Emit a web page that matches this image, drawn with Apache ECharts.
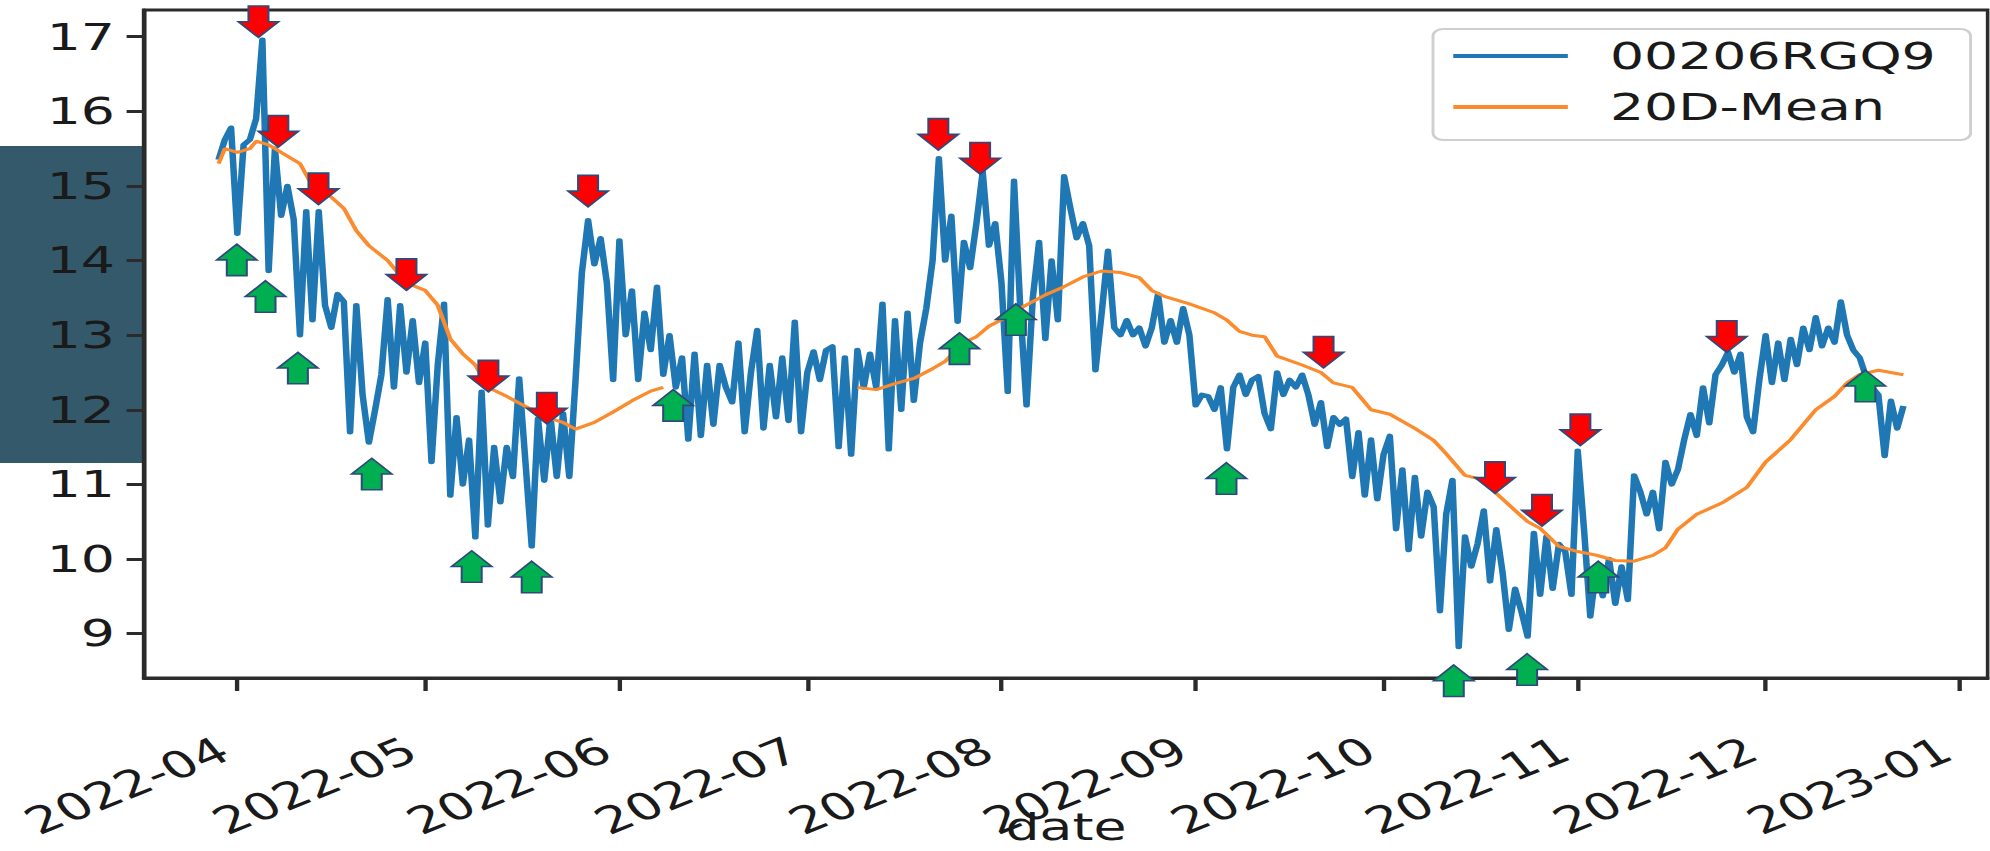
<!DOCTYPE html>
<html>
<head>
<meta charset="utf-8">
<script src="https://cdn.jsdelivr.net/npm/echarts@6/dist/echarts.min.js"></script>
<style>
html,body{margin:0;padding:0;background:#ffffff;overflow:hidden;}
#wrap{width:1990px;height:851px;overflow:hidden;position:relative;background:#fff;}
#chart{height:851px;transform-origin:0 0;}
</style>
</head>
<body>
<div id="wrap"><div id="chart"></div></div>
<script>
// ---------------- data ----------------
const seriesName = '00206RGQ9';
const meanName = '20D-Mean';
const blueStart = '2022-03-29';          // first daily value
const blueValues = [
  15.35, 15.62, 15.78,
  14.36, 15.55, 15.62, 15.9, 16.96, 13.86, 15.5, 14.6, 15.0, 14.55,
  13.0, 14.66, 13.2, 14.66, 13.4, 13.1, 13.55, 13.45, 11.7, 13.4,
  12.2, 11.56, 12.0, 12.47, 13.48, 12.3, 13.4, 12.5, 13.2, 12.36,
  12.9, 11.3, 12.6, 13.42, 10.85, 11.9, 11.0, 11.6, 10.29, 12.24,
  10.45, 11.5, 10.76, 11.5, 11.1, 12.42, 11.3, 10.17, 11.88, 11.05,
  11.9, 11.1, 11.95, 11.1, 12.4, 13.83, 14.54, 13.95, 14.3, 13.7,
  12.4, 14.27, 13.0, 13.6, 12.4, 13.3, 12.8, 13.65, 12.47, 13.0,
  12.3, 12.7, 11.6, 12.75, 11.65, 12.6, 11.8, 12.6, 12.3, 12.1,
  12.9, 11.7, 12.5, 13.07, 11.75, 12.6, 11.9, 12.7, 11.85, 13.18,
  11.7, 12.5, 12.78, 12.4, 12.8, 12.85, 11.5, 12.7, 11.4, 12.8,
  12.3, 12.75, 12.3, 13.42, 11.47, 13.2, 12.0, 13.3, 12.12, 12.9,
  13.36, 14.0, 15.37, 14.0, 14.6, 13.18, 14.25, 13.9, 14.5, 15.19,
  14.2, 14.5, 13.7, 12.24, 15.07, 13.36, 12.06, 13.5, 14.25, 12.95,
  14.0, 13.2, 15.13, 14.7, 14.3, 14.5, 14.2, 12.53, 13.3, 14.13,
  13.1, 13.0, 13.2, 13.0, 13.1, 12.85, 13.1, 13.55, 12.9, 13.2,
  12.9, 13.36, 13.0, 12.06, 12.2, 12.18, 12.0, 12.3, 11.47, 12.3,
  12.47, 12.2, 12.4, 12.45, 11.95, 11.74, 12.5, 12.2, 12.4, 12.3,
  12.47, 12.2, 11.8, 12.1, 11.5, 11.9, 11.8, 11.88, 11.1, 11.7,
  10.85, 11.6, 10.8, 11.4, 11.65, 10.4, 11.2, 10.12, 11.1, 10.3,
  10.9, 10.7, 9.3, 10.6, 11.06, 8.82, 10.3, 9.9, 10.2, 10.65,
  9.7, 10.4, 9.82, 9.05, 9.6, 9.3, 8.96, 10.35, 9.52, 10.3,
  9.6, 10.2, 10.1, 9.52, 11.45, 10.4, 9.23, 9.9, 9.5, 10.0,
  9.4, 9.9, 9.45, 11.12, 10.9, 10.6, 10.9, 10.4, 11.3, 11.0,
  11.2, 11.6, 11.94, 11.65, 12.3, 11.82, 12.47, 12.6, 12.77, 12.5,
  12.75, 11.9, 11.7, 12.4, 13.0, 12.36, 12.9, 12.4, 12.95, 12.6,
  13.1, 12.8, 13.24, 12.85, 13.1, 12.9, 13.45, 13.0, 12.8, 12.7,
  12.45, 12.3, 12.2, 11.38, 12.12, 11.75, 12.05
];

const maDates = [
  '2022-03-29','2022-03-30','2022-04-01','2022-04-03','2022-04-04','2022-04-06','2022-04-09','2022-04-11',
  '2022-04-13','2022-04-16','2022-04-18','2022-04-20','2022-04-22','2022-04-25','2022-04-28','2022-05-01',
  '2022-05-03','2022-05-05','2022-05-07','2022-05-09','2022-05-11','2022-05-14','2022-05-18','2022-05-21',
  '2022-05-23','2022-05-25','2022-05-28','2022-05-31','2022-06-03','2022-06-06','2022-06-08','2022-06-20',
  '2022-07-09','2022-07-12','2022-07-15','2022-07-18','2022-07-21','2022-07-23','2022-07-26','2022-07-28',
  '2022-07-30','2022-08-02','2022-08-04','2022-08-08','2022-08-11','2022-08-14','2022-08-17','2022-08-20',
  '2022-08-23','2022-08-25','2022-08-27','2022-08-31','2022-09-04','2022-09-06','2022-09-08','2022-09-10',
  '2022-09-12','2022-09-14','2022-09-18','2022-09-21','2022-09-23','2022-09-26','2022-09-29','2022-10-02',
  '2022-10-06','2022-10-09','2022-10-11','2022-10-14','2022-10-17','2022-10-19','2022-10-22','2022-10-24',
  '2022-10-26','2022-10-29','2022-11-01','2022-11-04','2022-11-07','2022-11-10','2022-11-13','2022-11-15',
  '2022-11-17','2022-11-20','2022-11-24','2022-11-28','2022-12-01','2022-12-05','2022-12-09','2022-12-12',
  '2022-12-14','2022-12-16','2022-12-19','2022-12-23'
];
const maValues = [
  15.3, 15.5, 15.45, 15.5, 15.6, 15.55, 15.4, 15.3,
  15.0, 14.85, 14.7, 14.4, 14.2, 14.0, 13.7, 13.6,
  13.4, 12.95, 12.75, 12.6, 12.3, 12.18, 12.0, 11.88,
  11.83, 11.74, 11.83, 11.97, 12.12, 12.25, 12.3, null,
  12.3, 12.27, 12.35, 12.42, 12.55, 12.65, 12.9, 12.98,
  13.12, 13.25, 13.36, 13.54, 13.65, 13.78, 13.86, 13.84,
  13.77, 13.6, 13.52, 13.42, 13.3, 13.2, 13.05, 13.0,
  12.98, 12.72, 12.6, 12.5, 12.36, 12.3, 12.0, 11.94,
  11.75, 11.59, 11.41, 11.12, 11.06, 10.88, 10.65, 10.5,
  10.41, 10.17, 10.1, 10.05, 9.98, 9.97, 10.05, 10.15,
  10.4, 10.6, 10.75, 10.96, 11.3, 11.6, 12.0, 12.18,
  12.36, 12.47, 12.53, 12.47
];

// red "down" arrows (tip position)
const sellDates = ['2022-04-04T09:00','2022-04-07T13:00','2022-04-13T23:00','2022-04-28T00:00','2022-05-11T02:00',
  '2022-05-20T10:00','2022-05-27T00:00','2022-07-21T22:00','2022-07-28T14:00','2022-09-21T10:00',
  '2022-10-18T19:00','2022-10-26T07:00','2022-11-01T10:00','2022-11-24T19:00'];
const sellValues = [16.99, 15.52, 14.75, 13.60, 12.24, 11.81, 14.72, 15.48, 15.16, 12.56, 10.88, 10.44, 11.52, 12.77];

// green "up" arrows (tip position)
const buyDates = ['2022-03-31T22:00','2022-04-05T12:00','2022-04-10T16:00','2022-04-22T11:00','2022-05-08T10:00',
  '2022-05-18T00:00','2022-06-09T14:00','2022-07-25T07:00','2022-08-03T07:00','2022-09-05T22:00',
  '2022-10-12T05:00','2022-10-23T22:00','2022-11-04T07:00','2022-12-16T22:00'];
const buyValues = [14.22, 13.73, 12.77, 11.35, 10.11, 9.97, 12.27, 13.03, 13.42, 11.29, 8.58, 8.73, 9.97, 12.53];

const yTickValues = [9, 10, 11, 12, 13, 14, 15, 16, 17];
const xTickLabels = ['2022-04','2022-05','2022-06','2022-07','2022-08','2022-09','2022-10','2022-11','2022-12','2023-01'];
const xRange = ['2022-03-17T02:24', '2023-01-05T12:00'];
const yRange = [8.405, 17.358];

// ---------------- helpers ----------------
function parseLocal(s) {
  const parts = s.split('T');
  const dp = parts[0].split('-').map(Number);
  let hh = 0, mi = 0;
  if (parts[1]) { const tp = parts[1].split(':').map(Number); hh = tp[0]; mi = tp[1]; }
  return new Date(dp[0], dp[1] - 1, dp[2] || 1, hh, mi).getTime();
}
const bs = blueStart.split('-').map(Number);
const blueData = blueValues.map((v, i) => [new Date(bs[0], bs[1] - 1, bs[2] + i).getTime(), v]);
const maData = maDates.map((d, i) => [parseLocal(d), maValues[i] === null ? '-' : maValues[i]]);
const sellData = sellDates.map((d, i) => [parseLocal(d), sellValues[i]]);
const buyData = buyDates.map((d, i) => [parseLocal(d), buyValues[i]]);
const xTickValues = xTickLabels.map(s => parseLocal(s));

// ---------------- layout (source picture is horizontally stretched) ----------------
const STRETCH = 1.45;
const W = 1990 / STRETCH;
const el = document.getElementById('chart');
el.style.width = W + 'px';
el.style.transform = 'scaleX(' + STRETCH + ')';

const FONT = 'DejaVu Sans';
const TXT = '#1a1a1a';
const AX = '#2b2b2b';
const FS = 37;

const downArrow = 'path://M10,0 L30,0 L30,16 L40,16 L20,32 L0,16 L10,16 Z';
const upArrow = 'path://M20,0 L40,16 L30,16 L30,32 L10,32 L10,16 L0,16 Z';
const arrowSize = [40 / STRETCH, 31.5];

const chart = echarts.init(el, null, { renderer: 'svg', width: W, height: 851 });
chart.setOption({
  animation: false,
  backgroundColor: '#ffffff',
  textStyle: { fontFamily: FONT },
  graphic: {
    elements: [{
      type: 'rect', z: -10, silent: true,
      shape: { x: 0, y: 146, width: 143 / STRETCH, height: 317 },
      style: { fill: '#33596b' }
    }]
  },
  grid: {
    left: 144 / STRETCH, right: W - 1988 / STRETCH, top: 10, bottom: 173,
    show: true, borderColor: AX, borderWidth: 3, backgroundColor: 'transparent',
    containLabel: false, outerBoundsMode: 'none'
  },
  legend: {
    orient: 'vertical',
    left: 1433 / STRETCH, top: 29,
    padding: [7, 24, 13, 14],
    itemGap: 11,
    itemWidth: 79, itemHeight: 4,
    icon: 'rect',
    backgroundColor: 'rgba(255,255,255,0.85)',
    borderColor: '#cfcfcf', borderWidth: 2, borderRadius: 7,
    data: [seriesName, meanName],
    textStyle: { fontFamily: FONT, fontSize: FS, color: TXT, lineHeight: 40, padding: [0, 0, 0, 24] }
  },
  xAxis: {
    type: 'value',
    min: parseLocal(xRange[0]), max: parseLocal(xRange[1]),
    name: 'date', nameLocation: 'middle', nameGap: 132, nameMoveOverlap: false,
    nameTextStyle: { fontFamily: FONT, fontSize: FS, color: TXT, lineHeight: 34 },
    axisLine: { show: true, onZero: false, lineStyle: { color: AX, width: 3 } },
    axisTick: { show: true, length: 13, customValues: xTickValues, lineStyle: { color: AX, width: 3 } },
    axisLabel: {
      customValues: xTickValues,
      rotate: 30, align: 'right', verticalAlign: 'bottom', margin: 85,
      fontFamily: FONT, fontSize: FS, color: TXT,
      formatter: function (v) {
        const i = xTickValues.indexOf(v);
        if (i >= 0) return xTickLabels[i];
        const d = new Date(v);
        return d.getFullYear() + '-' + String(d.getMonth() + 1).padStart(2, '0');
      }
    },
    splitLine: { show: false }
  },
  yAxis: {
    type: 'value',
    min: yRange[0], max: yRange[1],
    axisLine: { show: true, onZero: false, lineStyle: { color: AX, width: 3 } },
    axisTick: { show: true, length: 12, customValues: yTickValues, lineStyle: { color: AX, width: 3 } },
    axisLabel: { customValues: yTickValues, margin: 20, fontFamily: FONT, fontSize: FS, color: TXT },
    splitLine: { show: false }
  },
  series: [
    {
      name: seriesName, type: 'line', data: blueData, showSymbol: false, symbol: 'none',
      lineStyle: { color: '#1f77b4', width: 4.5, join: 'round' }, itemStyle: { color: '#1f77b4' }, z: 2
    },
    {
      name: meanName, type: 'line', data: maData, showSymbol: false, symbol: 'none', connectNulls: false,
      lineStyle: { color: '#fb8b2c', width: 3 }, itemStyle: { color: '#fb8b2c' }, z: 3
    },
    {
      name: 'sell', type: 'scatter', data: sellData, symbol: downArrow, symbolSize: arrowSize,
      symbolOffset: [0, '-50%'], clip: false, z: 5,
      itemStyle: { color: '#ff0000', borderColor: '#2e4a7d', borderWidth: 1.5, opacity: 1 }
    },
    {
      name: 'buy', type: 'scatter', data: buyData, symbol: upArrow, symbolSize: arrowSize,
      symbolOffset: [0, '50%'], clip: false, z: 5,
      itemStyle: { color: '#00b050', borderColor: '#2e4a7d', borderWidth: 1.5, opacity: 1 }
    }
  ]
});
</script>
</body>
</html>
